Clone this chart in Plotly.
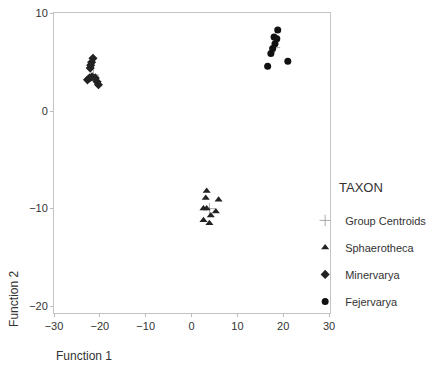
import plotly.graph_objects as go

# Discriminant function scores
sph_f1 = [3.3, 3.1, 5.9, 2.6, 3.3, 5.3, 4.2, 2.6, 3.9]
sph_f2 = [-8.2, -8.9, -9.1, -10.0, -10.0, -10.3, -10.7, -11.2, -11.5]

min_f1 = [-21.5, -21.8, -22.0, -22.1, -22.7, -22.2, -21.7, -21.0, -20.6, -20.3]
min_f2 = [5.4, 5.0, 4.7, 4.4, 3.2, 3.4, 3.5, 3.4, 3.0, 2.7]

fej_f1 = [18.8, 18.0, 18.6, 18.2, 17.7, 17.3, 16.6, 21.0]
fej_f2 = [8.3, 7.6, 7.4, 6.9, 6.4, 5.9, 4.6, 5.1]

cen_f1 = [3.9, -21.4, 18.1]
cen_f2 = [-10.0, 3.7, 6.5]

x_ticks = [-30, -20, -10, 0, 10, 20, 30]
y_ticks = [-20, -10, 0, 10]

FONT = "Liberation Sans, Arial, sans-serif"

fig = go.Figure()
fig.add_trace(go.Scatter(x=cen_f1, y=cen_f2, mode="markers", name="Group Centroids",
                         legendgroup="g1",
                         marker=dict(symbol="cross-thin", size=8,
                                     line=dict(color="#aaaaaa", width=1))))
fig.add_trace(go.Scatter(x=sph_f1, y=sph_f2, mode="markers", name="Sphaerotheca",
                         legendgroup="g2",
                         marker=dict(symbol="triangle-up", size=7, color="#222222")))
fig.add_trace(go.Scatter(x=min_f1, y=min_f2, mode="markers", name="Minervarya",
                         legendgroup="g3",
                         marker=dict(symbol="diamond", size=7, color="#222222")))
fig.add_trace(go.Scatter(x=fej_f1, y=fej_f2, mode="markers", name="Fejervarya",
                         legendgroup="g4",
                         marker=dict(symbol="circle", size=7, color="#111111")))

axis_common = dict(showgrid=False, zeroline=False, showline=True, mirror=True,
                   linecolor="#c4c4c4", linewidth=1, ticks="outside", ticklen=3,
                   tickcolor="#bbbbbb", ticklabeloverflow="allow",
                   tickfont=dict(family=FONT, size=11, color="#333333"))

# page body has an 8px margin, so the figure is 8px smaller and margins shifted
fig.update_layout(
    width=437, height=357,
    margin=dict(l=46, r=115, t=5, b=52, autoexpand=False),
    paper_bgcolor="white", plot_bgcolor="white",
    font=dict(family=FONT, color="#333333"),
    xaxis=dict(range=[-30, 30.2], tickvals=x_ticks, **axis_common),
    yaxis=dict(range=[-20.7, 10.05], tickvals=y_ticks, **axis_common),
    legend=dict(x=0.91, xanchor="left", y=0.357, yanchor="top",
                font=dict(family=FONT, size=11, color="#333333"),
                tracegroupgap=8, itemwidth=30, bgcolor="rgba(0,0,0,0)"),
    annotations=[
        dict(text="TAXON", xref="paper", yref="paper", x=1.025, y=0.42,
             xanchor="left", yanchor="middle", showarrow=False,
             font=dict(family=FONT, size=13, color="#333333")),
        dict(text="Function 1", xref="paper", yref="paper", x=0.0, y=-0.143,
             xanchor="left", yanchor="middle", showarrow=False,
             font=dict(family=FONT, size=12, color="#333333")),
        dict(text="Function 2", xref="paper", yref="paper", x=-0.145, y=0.047,
             xanchor="center", yanchor="middle", textangle=-90, showarrow=False,
             font=dict(family=FONT, size=12, color="#333333")),
    ],
)

fig.write_html("out.html")
